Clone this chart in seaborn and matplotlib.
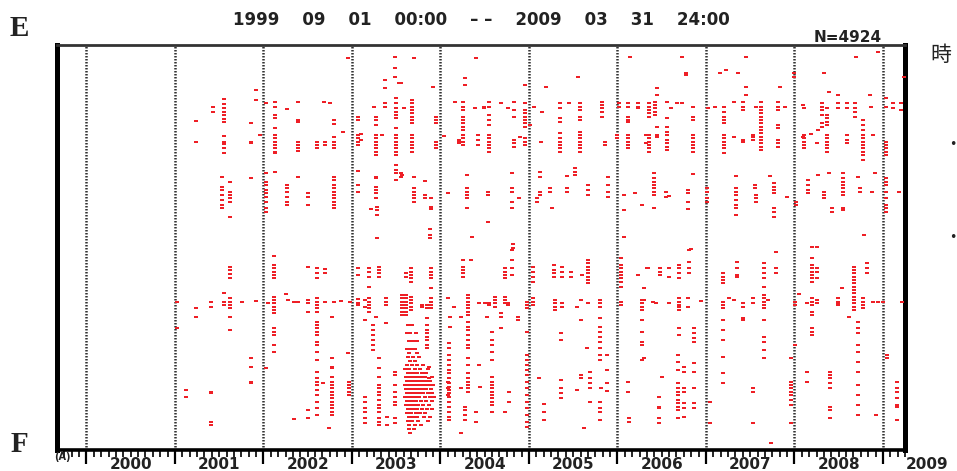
import pandas as pd
import seaborn as sns
import matplotlib.pyplot as plt
import matplotlib.transforms as mtransforms

# hypocentre columns: (decimal year, [distance from E, 0 = E .. 101 = F])
cols_2001 = [
    (2001.02, [64.3, 70.8]), (2001.13, [86.3, 87.9]), (2001.24, [18.9, 24.2, 65.8, 67.9]),
    (2001.41, [64.2, 65.4, 86.7, 87.1, 94.2, 95.0]), (2001.43, [15.4, 16.7]),
    (2001.53, [32.9, 35.4, 36.3, 37.5, 38.8, 40.0, 40.8]),
    (2001.55, [13.5, 14.8, 15.8, 16.7, 17.5, 18.5, 19.2, 22.7, 24.2, 24.8, 25.8, 27.1, 62.1, 64.2, 65.1]),
    (2001.62, [34.2, 36.7, 37.5, 38.3, 39.2, 42.9, 55.4, 56.3, 57.3, 58.2, 63.3, 64.2, 65.0, 65.8, 67.9, 71.3]),
    (2001.76, [64.3]), (2001.86, [19.6, 24.2, 24.6, 33.2, 78.3, 80.4, 84.2, 84.6]),
    (2001.92, [11.3, 13.8, 64.0]), (2001.96, [22.5]),
]

cols_2002 = [
    (2002.03, [14.6, 32.1, 34.2, 35.0, 36.3, 37.1, 37.9, 39.2, 40.8, 41.7, 80.8]), (2002.05, [64.6]),
    (2002.13, [14.2, 15.4, 17.5, 18.3, 20.8, 22.5, 23.3, 24.2, 25.0, 25.8, 26.7, 27.1, 31.7]),
    (2002.12, [52.7, 55.0, 55.8, 56.7, 57.5, 58.3, 62.9, 63.8, 64.6, 65.4, 66.3, 67.1, 70.8, 71.7, 72.5, 75.0, 76.7]),
    (2002.27, [16.0, 35.0, 35.8, 36.7, 37.9, 39.2, 40.0]), (2002.25, [62.3]), (2002.28, [63.8]),
    (2002.35, [64.3, 93.5]), (2002.39, [14.2, 18.8, 19.2, 24.2, 25.0, 25.8, 26.5, 32.9, 64.3]),
    (2002.50, [37.1, 37.9, 40.0, 55.4, 63.8, 64.6, 66.7, 91.3, 93.3]), (2002.61, [24.2, 25.0, 25.8]),
    (2002.60, [55.8, 57.1, 58.3, 63.3, 64.2, 65.0, 65.8, 66.7, 69.2, 70.0, 70.8, 71.7, 72.5, 74.2, 75.0,
               76.7, 78.8, 81.7, 83.3, 84.2, 85.0, 86.3, 87.5, 89.2, 90.8, 92.5]),
    (2002.69, [24.2, 25.0, 56.0, 57.1, 64.3]), (2002.68, [14.2]), (2002.75, [14.6]), (2002.67, [84.6]),
    (2002.74, [95.8]), (2002.77, [67.9]),
    (2002.80, [18.8, 19.8, 22.9, 24.2, 25.0, 25.8, 32.9, 33.8, 35.0, 35.8, 36.7, 37.5, 38.3, 39.2, 40.0, 40.8, 64.3]),
    (2002.78, [78.3, 80.4, 80.8, 82.9, 84.2, 85.0, 85.8, 86.7, 87.5, 88.3, 89.2, 90.0, 90.8, 91.7, 92.5]),
    (2002.88, [64.0]), (2002.90, [21.8]), (2002.95, [77.1]), (2002.96, [3.3]),
    (2002.97, [84.2, 85.0, 85.8, 86.7, 87.5]), (2002.98, [64.2]),
]

cols_2003 = [
    (2003.07, [17.9, 18.8, 22.5, 23.3, 24.2, 25.0, 31.5, 35.0, 36.7, 55.8, 57.5, 63.5, 64.5, 65.0]),
    (2003.10, [22.3, 23.8]), (2003.15, [63.8, 65.4, 68.8, 87.9, 89.2, 90.8, 91.7, 93.3, 94.6]),
    (2003.19, [55.8, 56.7, 57.9, 60.4, 63.3, 64.2, 65.0, 65.8, 66.7]), (2003.22, [41.0]),
    (2003.24, [70.0, 71.3, 72.5, 73.8, 75.0, 76.3]), (2003.25, [15.4]),
    (2003.27, [17.9, 18.8, 20.0, 22.5, 23.3, 24.2, 25.0, 25.8, 26.7, 27.5, 32.9, 33.3, 35.4, 36.3, 37.1, 38.3, 67.9]),
    (2003.28, [40.4, 41.3, 42.5, 48.3]), (2003.31, [55.4, 56.3, 57.1, 57.9]),
    (2003.30, [78.3, 80.8, 82.9, 85.0, 85.8, 86.7, 87.5, 88.8, 90.0, 90.8, 91.7, 93.3, 94.2, 95.0]),
    (2003.34, [22.5]), (2003.37, [8.8, 10.8, 14.6, 15.4]), (2003.38, [69.6]), (2003.39, [63.3, 64.2, 65.0]),
    (2003.40, [92.9, 95.0]), (2003.49, [2.9, 5.7, 7.9, 81.7, 82.5, 85.0, 86.7, 87.9, 89.2, 90.0, 93.3, 94.6]),
    (2003.50, [13.3, 14.6, 15.8, 16.7, 17.5, 18.3, 20.8, 22.5, 23.3, 24.2, 25.0, 25.8, 26.7, 27.5, 30.0, 31.3, 32.1, 33.8]),
    (2003.53, [9.6]), (2003.55, [9.6, 32.1, 33.0]), (2003.57, [32.5, 62.5, 63.3, 64.2, 65.0, 65.8, 66.7, 67.5]),
    (2003.59, [15.8]), (2003.61, [57.1, 57.9, 62.5, 63.3, 64.2, 65.0, 65.8, 66.7, 67.5]),
    (2003.68, [13.8, 14.6, 15.4, 16.3, 17.1, 17.9, 18.8, 19.6, 22.5, 23.3, 24.2, 25.0, 25.8, 26.7]),
    (2003.67, [55.8, 56.7, 57.5, 58.3, 59.2, 62.9, 63.8, 64.6, 65.4, 66.3]),
    (2003.70, [3.2, 33.0, 35.8, 36.7, 37.5, 38.3, 39.2]), (2003.79, [65.0, 65.4]), (2003.83, [34.0, 37.5, 38.3]),
    (2003.85, [65.0, 65.8, 68.3, 70.0, 71.3, 72.1, 72.9, 73.8, 75.0, 75.8]), (2003.88, [46.1, 47.5, 48.3]),
    (2003.89, [38.3, 40.4, 41.0, 55.8, 56.7, 57.5, 58.3, 60.8, 63.3, 64.2, 65.0, 65.8]), (2003.87, [80.4, 83.3]),
    (2003.92, [10.4]), (2003.95, [17.9, 18.8, 19.6, 24.2, 25.0, 25.8]),
]

# the dense late-2003 swarm, row by row
swarm_d = [70, 72, 74, 76, 77, 78, 79, 80, 81, 82, 83, 84, 85, 86, 87, 88, 89, 90, 91, 92, 93, 94, 95, 96, 97]
swarm_t = [
    [2003.63, 2003.68], [2003.62, 2003.66, 2003.72], [2003.64, 2003.69, 2003.74], [2003.62, 2003.67, 2003.71],
    [2003.65, 2003.73], [2003.63, 2003.69, 2003.76], [2003.66, 2003.71],
    [2003.62, 2003.68, 2003.74, 2003.80], [2003.60, 2003.65, 2003.71, 2003.77, 2003.86],
    [2003.63, 2003.66, 2003.70, 2003.73, 2003.79, 2003.84],
    [2003.61, 2003.64, 2003.68, 2003.72, 2003.75, 2003.78, 2003.82, 2003.90],
    [2003.62, 2003.66, 2003.69, 2003.71, 2003.74, 2003.77, 2003.80, 2003.85, 2003.88],
    [2003.60, 2003.63, 2003.65, 2003.68, 2003.70, 2003.73, 2003.76, 2003.79, 2003.83, 2003.87, 2003.92],
    [2003.61, 2003.64, 2003.67, 2003.69, 2003.72, 2003.75, 2003.78, 2003.81, 2003.84, 2003.89],
    [2003.62, 2003.65, 2003.68, 2003.71, 2003.74, 2003.77, 2003.80, 2003.86, 2003.90],
    [2003.60, 2003.63, 2003.66, 2003.70, 2003.73, 2003.76, 2003.82, 2003.88, 2003.93],
    [2003.62, 2003.65, 2003.69, 2003.72, 2003.78, 2003.84, 2003.90],
    [2003.61, 2003.64, 2003.67, 2003.71, 2003.75, 2003.80, 2003.87],
    [2003.63, 2003.66, 2003.70, 2003.74, 2003.79, 2003.85, 2003.91],
    [2003.62, 2003.67, 2003.72, 2003.77, 2003.83], [2003.64, 2003.69, 2003.73, 2003.81, 2003.88],
    [2003.63, 2003.68, 2003.75, 2003.86], [2003.65, 2003.71, 2003.78], [2003.64, 2003.70], [2003.66],
]

cols_2004 = [
    (2004.04, [22.7]), (2004.08, [37.1, 84.2, 85.8, 87.5]), (2004.09, [63.3]),
    (2004.10, [74.6, 75.8, 77.5, 78.8, 80.0, 81.3, 82.1, 83.3, 84.6, 85.4, 86.3, 87.1, 87.9, 89.2, 90.4, 91.7, 92.9, 93.8]),
    (2004.11, [67.9, 70.4]), (2004.15, [65.4]), (2004.16, [14.2]), (2004.21, [23.8, 24.2, 24.6]),
    (2004.23, [67.9, 85.8, 97.1]),
    (2004.26, [14.2, 15.4, 16.3, 17.9, 18.8, 19.6, 20.4, 21.3, 22.5, 23.3, 24.2, 25.0, 53.8, 55.4, 56.3, 57.1, 57.9]),
    (2004.28, [8.2, 10.0, 90.4, 91.3, 92.5, 93.8]), (2004.30, [32.5, 35.8, 36.7, 37.5, 38.3, 40.8]),
    (2004.31, [62.5, 63.3, 64.2, 65.0, 65.8, 66.7, 67.5, 69.2, 70.4, 71.3, 72.5, 73.8, 75.0, 75.8, 78.3, 80.0,
               82.1, 83.3, 84.2, 85.0, 85.8, 86.7]),
    (2004.34, [53.8]), (2004.36, [47.9]), (2004.39, [15.8]), (2004.40, [3.3, 91.7, 94.2]),
    (2004.42, [22.5, 23.8, 25.0]), (2004.44, [64.6, 80.0]), (2004.45, [85.4]), (2004.49, [15.4, 15.8]),
    (2004.50, [64.6]), (2004.53, [67.9]),
    (2004.55, [14.2, 15.4, 17.5, 18.8, 20.0, 22.5, 23.3, 24.2, 25.0, 25.8, 26.7, 64.6, 65.0]),
    (2004.54, [36.7, 37.5, 44.3]),
    (2004.58, [71.7, 73.8, 75.0, 76.7, 78.8, 82.9, 84.2, 85.0, 85.8, 86.7, 87.5, 88.3, 89.2, 90.0, 91.7]),
    (2004.62, [62.9, 63.8, 64.6, 65.4]), (2004.68, [14.6]), (2004.69, [67.1, 67.9, 70.8]),
    (2004.73, [55.8, 56.7, 57.5, 58.3, 62.9, 63.8, 64.6, 91.7]), (2004.76, [15.8, 64.6, 65.0]),
    (2004.77, [86.7, 89.2]), (2004.81, [32.1, 35.8, 36.7, 39.2, 40.8, 51.3, 53.8, 55.8, 57.5]),
    (2004.82, [49.8, 50.7]), (2004.83, [14.2, 16.3, 17.9, 23.8, 24.6, 25.4]), (2004.88, [67.9, 68.8]),
    (2004.89, [38.3]), (2004.90, [22.9]),
    (2004.96, [10.0, 14.6, 16.3, 17.1, 17.9, 18.8, 19.6, 20.4, 23.3, 24.2, 25.0]),
    (2004.98, [64.2, 65.0, 65.8, 71.7, 77.5, 78.8, 80.0, 81.3, 82.5, 84.2, 85.8, 87.5, 89.2, 90.8, 92.5, 94.2, 95.4]),
]

cols_2005 = [
    (2005.01, [20.0]), (2005.05, [55.4, 56.7, 57.9, 59.2, 63.3, 64.2, 65.0]), (2005.06, [15.4]),
    (2005.09, [38.3, 39.2]), (2005.11, [83.3]), (2005.13, [31.7, 32.9, 36.7, 37.5]), (2005.14, [24.2]),
    (2005.15, [16.7]), (2005.17, [89.8, 91.7, 93.8]), (2005.19, [10.4]), (2005.24, [35.8, 36.7]),
    (2005.26, [40.8]), (2005.28, [55.0, 56.3, 57.1, 57.9]), (2005.29, [63.8, 64.6, 65.4, 66.3]),
    (2005.35, [14.6, 15.8, 18.3, 19.2, 22.1, 23.3, 24.2, 25.0, 25.8, 26.7]),
    (2005.37, [55.4, 56.7, 57.9, 64.6, 65.4]), (2005.36, [72.1, 73.8, 83.8, 85.8, 87.1, 88.3]),
    (2005.43, [32.8, 35.8, 36.7]), (2005.45, [14.6]), (2005.47, [56.7, 57.9]), (2005.52, [30.8, 31.7, 32.5]),
    (2005.54, [65.4, 86.3]), (2005.56, [8.1]),
    (2005.58, [14.6, 15.4, 16.3, 17.9, 18.8, 21.7, 22.5, 23.3, 24.2, 25.0, 25.8, 26.7]),
    (2005.59, [63.8, 68.8, 82.5, 83.3]), (2005.60, [57.5]), (2005.62, [95.7]), (2005.66, [75.8]),
    (2005.67, [35.0, 36.3, 37.5, 53.8, 54.6, 55.4, 56.3, 57.1, 57.9, 58.8, 59.6, 64.6]),
    (2005.69, [81.7, 83.3, 84.6, 85.8, 89.2]),
    (2005.80, [63.8, 64.6, 65.4, 68.3, 70.4, 71.7, 72.9, 74.2, 75.8, 77.5, 78.8, 89.2, 90.8, 91.7, 93.8]),
    (2005.82, [85.8]), (2005.83, [14.2, 15.0, 15.8, 16.7, 17.9]), (2005.86, [24.2, 25.0]),
    (2005.88, [77.5, 81.3, 84.6, 86.5]), (2005.89, [32.9, 35.0, 36.7, 37.9]),
]

cols_2006 = [
    (2006.02, [14.6, 15.4]), (2006.00, [22.5, 23.3]),
    (2006.04, [53.3, 55.0, 55.8, 56.7, 57.5, 58.3, 59.2, 60.4, 64.2, 65.0]), (2006.07, [37.5, 41.3, 47.9]),
    (2006.12, [14.6, 15.4, 17.9, 18.8, 19.2, 22.5, 23.3, 24.2, 25.0, 25.8, 84.2, 86.7]),
    (2006.13, [93.3, 94.2]), (2006.14, [2.9]), (2006.20, [37.1]), (2006.23, [14.6, 15.4, 15.8, 57.5]),
    (2006.28, [40.0, 63.8, 64.6, 65.4, 66.3, 68.8, 71.7, 74.2, 75.0, 78.8]), (2006.30, [60.8, 63.8, 78.3]),
    (2006.32, [22.5, 24.6]), (2006.33, [55.8]), (2006.35, [55.8]),
    (2006.36, [14.6, 15.4, 16.3, 17.1, 17.9, 22.5, 23.3, 24.2, 25.0, 25.8, 26.7]), (2006.40, [64.2]),
    (2006.41, [32.1, 33.3, 34.2, 35.0, 35.8, 36.7, 37.5, 40.8]), (2006.43, [14.2, 15.0, 15.8, 16.7, 17.5]),
    (2006.44, [64.6]), (2006.45, [10.7, 12.5, 20.4, 22.5, 22.9]), (2006.47, [87.9, 90.4, 90.8, 93.3, 94.6]),
    (2006.48, [55.8, 56.7, 57.5]), (2006.50, [82.9]), (2006.55, [36.7, 37.9]),
    (2006.56, [14.2, 18.2, 20.4, 21.7, 22.5, 23.8, 24.6, 25.4, 26.3]), (2006.58, [37.7, 55.8, 57.9, 64.6]),
    (2006.60, [15.8]), (2006.67, [14.6]),
    (2006.69, [77.5, 79.2, 81.3, 84.6, 85.8, 86.7, 87.5, 88.8, 89.6, 90.4, 91.3, 93.3]),
    (2006.70, [55.0, 55.8, 57.1, 58.3, 63.3, 64.2, 65.0, 65.4, 66.3, 70.8, 72.5]), (2006.73, [2.9, 14.6]),
    (2006.75, [80.4, 81.7, 85.8, 86.7, 89.6, 90.8, 92.9]), (2006.77, [7.1, 7.5]),
    (2006.80, [36.3, 37.1, 39.2, 41.0, 63.3, 65.4]), (2006.81, [51.3, 54.2, 55.8, 57.1]), (2006.83, [51.0]),
    (2006.85, [15.4, 17.9, 18.8, 22.5, 23.3, 24.2, 25.0, 25.8, 26.7, 32.3]), (2006.86, [85.8, 89.6, 90.8]),
    (2006.87, [70.8, 72.1, 73.3, 74.2, 79.6, 81.7]), (2006.94, [64.0]),
]

cols_2007 = [
    (2007.01, [35.8, 36.7, 38.3, 39.2]), (2007.02, [15.8]), (2007.05, [89.2, 94.6]), (2007.10, [15.5]),
    (2007.16, [7.1]),
    (2007.19, [57.1, 57.9, 58.8, 59.6, 64.2, 65.0, 65.8, 68.8, 71.3, 73.8, 77.9, 82.1, 84.6]),
    (2007.21, [15.4, 16.7, 17.9, 18.8, 19.6, 22.5, 23.3, 24.2, 25.0, 25.8, 27.1]), (2007.23, [6.3]),
    (2007.26, [63.3]), (2007.32, [14.2, 22.9, 63.8]), (2007.34, [32.8, 35.8, 36.7, 37.5, 38.8, 40.0, 40.8, 42.5]),
    (2007.35, [54.2, 55.8, 57.5, 57.9]), (2007.36, [7.1]),
    (2007.42, [14.2, 15.4, 16.3, 23.8, 24.2, 64.6, 65.4, 68.3, 68.8]), (2007.45, [2.9, 10.4, 12.5]),
    (2007.53, [22.5, 22.9, 23.8, 63.3, 64.6, 85.8, 86.7, 94.6]), (2007.55, [35.0, 35.8]),
    (2007.57, [15.4, 37.5, 38.3, 39.2]),
    (2007.62, [14.2, 15.4, 16.3, 17.1, 17.9, 18.8, 19.6, 20.4, 21.3, 22.1, 22.9, 23.8, 24.6, 25.4, 26.3]),
    (2007.66, [54.6, 55.8, 57.1, 58.3, 60.4, 62.5, 63.3, 64.2, 65.0, 65.8, 68.8, 72.9, 74.2, 76.3, 78.3]),
    (2007.70, [63.8]), (2007.72, [32.8]), (2007.74, [99.6]), (2007.77, [34.6, 35.4, 36.3, 37.1, 40.8, 41.7, 42.9]),
    (2007.79, [51.8, 55.8, 57.1]), (2007.81, [14.2, 15.4, 16.3, 20.0, 20.8, 23.8, 24.6, 25.4]),
    (2007.84, [10.4]), (2007.89, [15.4]), (2007.92, [37.9]),
    (2007.96, [78.3, 84.2, 85.0, 85.8, 86.7, 87.5, 88.8, 90.0, 94.6]),
]

cols_2008 = [
    (2008.00, [7.1, 7.9]), (2008.01, [64.2, 65.0, 75.0]), (2008.02, [39.2, 40.0]), (2008.05, [62.3]),
    (2008.10, [15.0, 22.9]), (2008.11, [15.8, 22.5, 23.3, 24.2, 25.0, 25.8]), (2008.14, [64.6, 81.7, 84.2]),
    (2008.15, [33.8, 35.0, 36.3, 37.1]), (2008.19, [22.3]),
    (2008.20, [50.4, 53.3, 55.0, 55.8, 56.7, 57.5, 58.3, 59.2, 63.3, 64.2, 65.0, 66.7, 67.5, 70.8, 71.7, 72.5]),
    (2008.25, [24.6, 50.4]), (2008.26, [55.8, 56.7, 58.3, 63.8, 64.6]), (2008.27, [21.3, 32.5]),
    (2008.31, [14.6, 15.4, 16.3, 17.5, 19.6, 20.4]), (2008.33, [7.1, 36.7, 37.5, 38.3]),
    (2008.37, [15.8, 17.5, 18.3, 19.2, 20.0, 22.5, 23.3, 24.2, 25.0, 25.8, 26.7]), (2008.39, [11.7, 32.1]),
    (2008.40, [81.7, 82.5, 83.3, 84.6, 85.8, 90.4, 91.3, 93.3]), (2008.43, [40.8, 41.7]),
    (2008.49, [12.5, 14.6, 15.8, 63.3, 64.2, 64.6, 65.0]), (2008.54, [60.8]),
    (2008.55, [32.1, 33.3, 34.2, 35.0, 35.8, 36.7, 37.5, 40.8, 41.3]), (2008.59, [14.6, 15.8, 22.5, 23.8, 24.6]),
    (2008.62, [67.9]),
    (2008.67, [55.4, 56.3, 57.1, 57.9, 58.8, 59.6, 60.4, 61.3, 62.1, 62.9, 63.8, 64.6, 65.4, 66.3]),
    (2008.68, [14.6, 15.8, 16.7, 17.9]), (2008.70, [2.9]),
    (2008.72, [32.9, 69.2, 70.8, 72.1, 75.0, 76.7, 79.2, 81.7, 85.0, 87.5, 90.0, 92.5]), (2008.74, [35.8, 36.7]),
    (2008.77, [18.8, 20.0, 21.3, 22.5, 23.3, 24.2, 25.0, 25.8, 26.7, 27.5, 28.8, 63.3, 64.2, 65.0, 65.8]),
    (2008.79, [47.5]), (2008.82, [54.6, 55.8, 57.1]), (2008.86, [12.5]), (2008.87, [15.4]), (2008.88, [36.7]),
    (2008.89, [22.5, 64.2]), (2008.91, [32.1]), (2008.92, [92.5]), (2008.94, [1.7]), (2008.95, [64.2]),
]

cols_2009 = [
    (2009.00, [64.2]),
    (2009.03, [13.3, 15.4, 24.2, 25.0, 25.8, 26.7, 27.5, 33.3, 34.2, 35.0, 36.7, 38.3, 40.0, 40.8, 41.7]),
    (2009.05, [77.5, 78.3]), (2009.12, [14.6, 15.8]), (2009.16, [84.2, 85.8, 86.7, 88.3, 90.0, 90.4, 93.8]),
    (2009.18, [36.7]), (2009.20, [14.6, 16.3]), (2009.22, [64.2]), (2009.24, [7.9]),
]

years = list(range(2000, 2010))
title_text = '1999    09    01    00:00    – –    2009    03    31    24:00'
count_text = 'N=4924'

rows = []
for cols in [cols_2001, cols_2002, cols_2003, cols_2004, cols_2005, cols_2006, cols_2007, cols_2008, cols_2009]:
    for t, ds in cols:
        rows += [(t, d) for d in ds]
for d, ts in zip(swarm_d, swarm_t):
    rows += [(t, d) for t in ts]
df = pd.DataFrame(rows, columns=['t', 'dist'])

sns.set_style('white')
plt.rcParams['font.family'] = ['DejaVu Sans', 'Noto Sans CJK JP']

fig = plt.figure(figsize=(9.57, 4.71), dpi=100)
ax = fig.add_axes([57 / 957, 21 / 471, 848 / 957, 405 / 471])

# small flat dots, like the plotter marks of the original
dash = [(-1, -0.62), (1, -0.62), (1, 0.62), (-1, 0.62), (-1, -0.62)]
sns.scatterplot(data=df, x='t', y='dist', marker=dash, s=10, color='#ee1f26',
                linewidth=0, legend=False, ax=ax, zorder=3)

ax.set_xlim(1999 + 8 / 12, 2009.25)
ax.set_ylim(101.25, 0)

for yr in years:
    ax.axvline(yr, color='#333333', lw=1.8, ls=(0, (0.6, 0.6)), zorder=2)

for side, lw in [('top', 2.0), ('bottom', 2.6), ('left', 3.6), ('right', 3.6)]:
    ax.spines[side].set_visible(True)
    ax.spines[side].set_linewidth(lw)
    ax.spines[side].set_color('black' if side != 'top' else '#333333')

ax.set_xticks(years)
ax.set_xticks([1999 + m / 12 for m in range(9, 12 + 10 * 12) if 1999 + m / 12 <= 2009.25], minor=True)
ax.tick_params(axis='x', which='both', bottom=True, top=False, labelbottom=False)
ax.tick_params(axis='x', which='major', direction='out', length=10, width=1.6, color='black')
ax.tick_params(axis='x', which='minor', direction='out', length=5, width=1.2, color='black')
ax.set_yticks([])
ax.set_xlabel('')
ax.set_ylabel('')

trans = mtransforms.blended_transform_factory(ax.transData, ax.transAxes)
for yr in years:
    ax.text(yr + 0.5, -0.035, str(yr), transform=trans, ha='center', va='center',
            fontsize=11, fontweight='bold', color='#222222', clip_on=False)

fig.text(481 / 957, 1 - 20 / 471, title_text, ha='center', va='center',
         fontsize=12, fontweight='bold', color='#222222')
fig.text(882 / 957, 1 - 37 / 471, count_text, ha='right', va='center',
         fontsize=11, fontweight='bold', color='#222222')
fig.text(62 / 957, 1 - 457 / 471, '(A)', ha='center', va='center',
         fontsize=7, fontweight='bold', color='#222222')

fig.text(19 / 957, 1 - 28 / 471, 'E', ha='center', va='center',
         fontsize=21, family='Liberation Serif', fontweight='bold', color='#222222')
fig.text(19 / 957, 1 - 445 / 471, 'F', ha='center', va='center',
         fontsize=21, family='Liberation Serif', fontweight='bold', color='#222222')

fig.text(930 / 957, 1 - 55 / 471, '時', ha='left', va='center',
         fontsize=15, family=['Noto Sans CJK JP', 'DejaVu Sans'], color='#222222')
for yb in [145, 238]:
    fig.text(953 / 957, 1 - yb / 471, '•', ha='center', va='center', fontsize=9, color='#222222')

fig.savefig('out.png', dpi=100)
